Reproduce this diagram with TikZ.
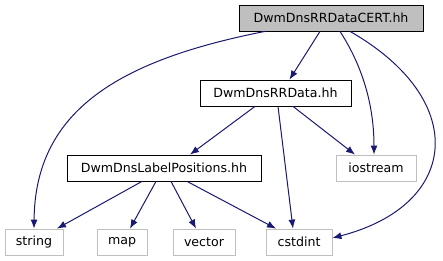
\documentclass[tikz,border=0pt]{standalone}
\usepackage{fontspec}
\setmainfont{DejaVu Sans}
\usepackage{xcolor}
\usetikzlibrary{arrows.meta, positioning}
\definecolor{EdgeBlue}{RGB}{25,25,112}
\definecolor{BoxGray}{RGB}{191,191,191}
\tikzset{
  >={Latex[length=9pt,width=7pt]},  % punta delle frecce
  % Nodi dei file
  file/.style={draw=black,thick,minimum height=26pt,inner sep=0pt,font=\fontsize{12.6}{15}\selectfont},
  file main/.style={file,fill=BoxGray},
  file sys/.style={file,draw=BoxGray},
  % Inclusioni
  include/.style={->,line width=1pt,EdgeBlue}
}
\begin{document}
\begin{tikzpicture}[x=1pt,y=-1pt]
    \useasboundingbox (0,0) rectangle (443,261);
    \node[file main,minimum width=184pt] (cert) at (331,18) {DwmDnsRRDataCERT.hh};
    \node[file,minimum width=151pt] (rrdata) at (275.5,93) {DwmDnsRRData.hh};
    \node[file,minimum width=194pt] (labelpos) at (164,168) {DwmDnsLabelPositions.hh};
    \node[file sys,minimum width=80pt] (iostream) at (376,168) {iostream};
    \node[file sys,minimum width=58pt] (string) at (34,242) {string};
    \node[file sys,minimum width=50pt] (map) at (122,242) {map};
    \node[file sys,minimum width=62pt] (vector) at (204,242) {vector};
    \node[file sys,minimum width=66pt] (cstdint) at (299,242) {cstdint};
    % dal file principale
    \draw[include]([xshift=-66pt]cert.south) .. controls (120,60) and (35,110) .. (string.north);
    \draw[include]([xshift=-11pt]cert.south)--([xshift=14pt]rrdata.north);
    \draw[include]([xshift=9pt]cert.south) .. controls (365,70) and (374,110) .. ([xshift=-2pt]iostream.north);
    \draw[include]([xshift=19pt]cert.south) .. controls (470,100) and (460,205) .. ([yshift=4pt]cstdint.east);
    % da DwmDnsRRData.hh
    \draw[include]([xshift=-20.5pt]rrdata.south)--([xshift=26pt]labelpos.north);
    \draw[include]([xshift=2.5pt]rrdata.south)--([xshift=-6pt]cstdint.north);
    \draw[include]([xshift=17.5pt]rrdata.south)--([xshift=-21pt]iostream.north);
    % da DwmDnsLabelPositions.hh
    \foreach \s/\t/\dx in {-22/string/23, -8/map/8, 7/vector/-8, 23/cstdint/-23} {
      \draw[include]([xshift=\s pt]labelpos.south)--([xshift=\dx pt]\t.north);
    }
  \end{tikzpicture}
\end{document}
